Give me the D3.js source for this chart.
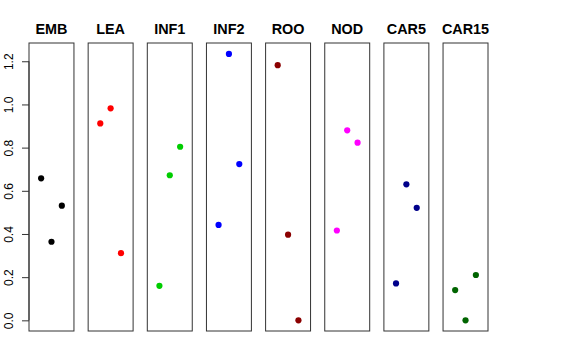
<!DOCTYPE html>
<html>
<head>
<meta charset="utf-8">
<script src="https://cdn.jsdelivr.net/npm/d3@7"></script>
<style>
  body { margin: 0; background: #fff; }
  text { font-family: "Liberation Sans", Arial, sans-serif; }
</style>
</head>
<body>
<div id="chart"></div>
<script>
var svgWidth = 576;
var svgHeight = 360;

// tissue groups, one panel each
var categories = ["EMB", "LEA", "INF1", "INF2", "ROO", "NOD", "CAR5", "CAR15"];
var colors = ["#000000", "#FF0000", "#00CD00", "#0000FF", "#8B0000", "#FF00FF", "#00008B", "#006400"];

// three replicates per group (left, middle, right position in panel)
var rep1 = [0.658, 0.912, 0.160, 0.442, 1.182, 0.416, 0.171, 0.140];
var rep2 = [0.364, 0.982, 0.672, 1.234, 0.397, 0.880, 0.630, 0.000];
var rep3 = [0.531, 0.311, 0.804, 0.724, 0.000, 0.823, 0.521, 0.210];

var yTicks = [0, 0.2, 0.4, 0.6, 0.8, 1.0, 1.2];

var svg = d3.select("#chart")
  .append("svg")
  .attr("width", svgWidth)
  .attr("height", svgHeight);

var panelTop = 43;
var panelBottom = 331;

var xBand = d3.scaleBand()
  .domain(categories)
  .range([29, 488])
  .paddingInner(0.24)
  .paddingOuter(0);

var xInner = d3.scaleLinear()
  .domain([-0.17, 4.17])
  .range([0, xBand.bandwidth()]);

var yScale = d3.scaleLinear()
  .domain([-0.0494, 1.2846])
  .range([panelBottom, panelTop]);

// flatten points
var points = [];
categories.forEach((c, i) => {
  [rep1[i], rep2[i], rep3[i]].forEach((v, j) => {
    points.push({cat: c, pos: j + 1, value: v, color: colors[i]});
  });
});

// panel boxes
svg.selectAll(".panel")
  .data(categories)
  .enter()
  .append("rect")
  .attr("class", "panel")
  .attr("x", d => xBand(d))
  .attr("y", panelTop)
  .attr("width", xBand.bandwidth())
  .attr("height", panelBottom - panelTop)
  .attr("fill", "none")
  .attr("stroke", "#333")
  .attr("stroke-width", 1);

// panel titles
svg.selectAll(".title")
  .data(categories)
  .enter()
  .append("text")
  .attr("class", "title")
  .attr("x", d => xBand(d) + xBand.bandwidth() / 2)
  .attr("y", 34)
  .attr("text-anchor", "middle")
  .style("font-size", "14.4px")
  .style("font-weight", "bold")
  .text(d => d);

// left axis on first panel
var leftAxis = d3.axisLeft(yScale)
  .tickValues(yTicks)
  .tickSize(7)
  .tickPadding(4)
  .tickFormat(d3.format(".1f"));

var axisG = svg.append("g")
  .attr("transform", `translate(${xBand(categories[0])}, 0)`)
  .call(leftAxis);

axisG.select(".domain")
  .attr("d", `M0,${yScale(0)}V${yScale(1.2)}`)
  .attr("stroke", "#333");
axisG.selectAll(".tick line").attr("stroke", "#333");
axisG.selectAll(".tick text")
  .attr("x", null)
  .attr("dy", null)
  .attr("transform", "translate(-16,0) rotate(-90)")
  .attr("text-anchor", "middle")
  .attr("fill", "#000")
  .style("font-size", "12px")
  .style("font-family", "Liberation Sans, Arial, sans-serif");

// points
svg.selectAll(".pt")
  .data(points)
  .enter()
  .append("circle")
  .attr("class", "pt")
  .attr("cx", d => xBand(d.cat) + xInner(d.pos))
  .attr("cy", d => yScale(d.value))
  .attr("r", 3.1)
  .attr("fill", d => d.color);
</script>
</body>
</html>
